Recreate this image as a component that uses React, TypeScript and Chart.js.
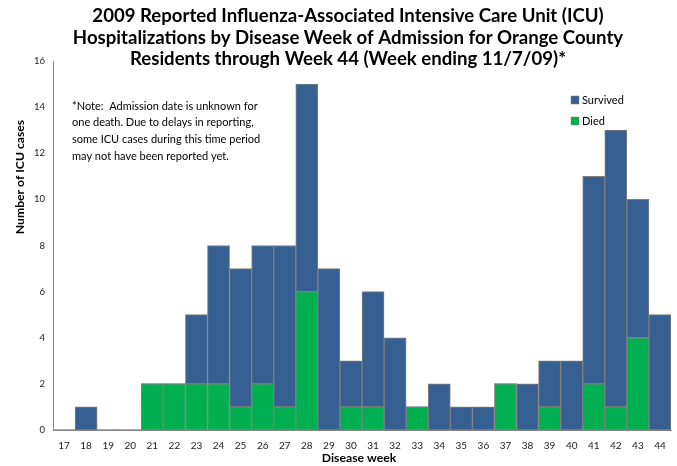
import React, { useEffect, useRef } from "react";
import { Chart, registerables } from "chart.js";

Chart.register(...registerables);

const weeks = ["17","18","19","20","21","22","23","24","25","26","27","28","29","30","31","32","33","34","35","36","37","38","39","40","41","42","43","44"];
const died =     [0,0,0,0,2,2,2,2,1,2,1,6,0,1,1,0,1,0,0,0,2,0,1,0,2,1,4,0];
const survived = [0,1,0,0,0,0,3,6,6,6,7,9,7,2,5,4,0,2,1,1,0,2,2,3,9,12,6,5];
const yTicks = [0,2,4,6,8,10,12,14,16];

const titleLines = [
  "2009 Reported Influenza-Associated Intensive Care Unit (ICU)",
  "Hospitalizations by Disease Week of Admission for Orange County",
  "Residents through Week 44 (Week ending 11/7/09)*",
];
const noteLines = [
  "*Note:  Admission date is unknown for",
  "one death. Due to delays in reporting,",
  "some ICU cases during this time period",
  "may not have been reported yet.",
];
const yTitle = "Number of ICU cases";
const xTitle = "Disease week";

const BLUE = "#376092";
const GREEN = "#00B050";
const EDGE = "#7F7F7F";
const FONT = "Lato, 'Open Sans', sans-serif";

const overlayPlugin = {
  id: "overlay",
  afterDraw(chart: any) {
    const ctx = chart.ctx;
    ctx.save();
    ctx.fillStyle = "#000";
    ctx.textAlign = "center";
    ctx.textBaseline = "middle";
    ctx.font = `bold 18.6px ${FONT}`;
    titleLines.forEach((t, i) => ctx.fillText(t, 348, 16 + i * 21.5));

    ctx.font = `bold 12.2px ${FONT}`;
    ctx.fillText(xTitle, 359, 458);
    ctx.save();
    ctx.translate(20, 177);
    ctx.rotate(-Math.PI / 2);
    ctx.fillText(yTitle, 0, 0);
    ctx.restore();

    ctx.textAlign = "left";
    ctx.font = `11px ${FONT}`;
    noteLines.forEach((t, i) => ctx.fillText(t, 72, 106 + i * 16.7));

    const items = [
      { label: "Survived", color: BLUE },
      { label: "Died", color: GREEN },
    ];
    items.forEach((it, i) => {
      const y = 100 + i * 21;
      ctx.fillStyle = it.color;
      ctx.fillRect(571, y - 4, 8, 8);
      ctx.strokeStyle = EDGE;
      ctx.lineWidth = 0.5;
      ctx.strokeRect(571, y - 4, 8, 8);
      ctx.fillStyle = "#000";
      ctx.font = `11px ${FONT}`;
      ctx.fillText(it.label, 582, y);
    });
    ctx.restore();
  },
};

export default function App() {
  const ref = useRef<HTMLCanvasElement>(null);
  useEffect(() => {
    if (!ref.current) return;
    const bw = (c: any) => (c.raw ? 1 : 0);
    const chart = new Chart(ref.current, {
      type: "bar",
      data: {
        labels: weeks,
        datasets: [
          { label: "Died", data: died, backgroundColor: GREEN, borderColor: EDGE, borderWidth: bw as any, borderSkipped: false, barPercentage: 1, categoryPercentage: 1 },
          { label: "Survived", data: survived, backgroundColor: BLUE, borderColor: EDGE, borderWidth: bw as any, borderSkipped: false, barPercentage: 1, categoryPercentage: 1 },
        ],
      },
      options: {
        animation: false,
        responsive: false,
        devicePixelRatio: 1,
        layout: { padding: { top: 61, right: 6, left: 0, bottom: 0 } },
        plugins: { legend: { display: false }, title: { display: false }, tooltip: { enabled: false } },
        scales: {
          x: {
            stacked: true,
            grid: { display: false, drawTicks: false },
            border: { display: true, color: "#868686", width: 1 },
            ticks: { color: "#222", font: { family: FONT, size: 10 }, padding: 10, maxRotation: 0, autoSkip: false },
            afterFit: (s: any) => { s.height = 36; },
          },
          y: {
            stacked: true,
            min: 0,
            max: 16,
            afterBuildTicks: (s: any) => { s.ticks = yTicks.map((v) => ({ value: v })); },
            grid: { display: false, drawTicks: false },
            border: { display: true, color: "#868686", width: 1 },
            ticks: { color: "#222", font: { family: FONT, size: 9.5 }, padding: 8 },
            afterFit: (s: any) => { s.width = 53; },
          },
        },
      },
      plugins: [overlayPlugin],
    });
    return () => chart.destroy();
  }, []);
  return (
    <div style={{ position: "absolute", left: 0, top: 0, width: 677, height: 466, background: "#fff" }}>
      <canvas ref={ref} width={677} height={466} style={{ width: 677, height: 466, display: "block" }} />
    </div>
  );
}
